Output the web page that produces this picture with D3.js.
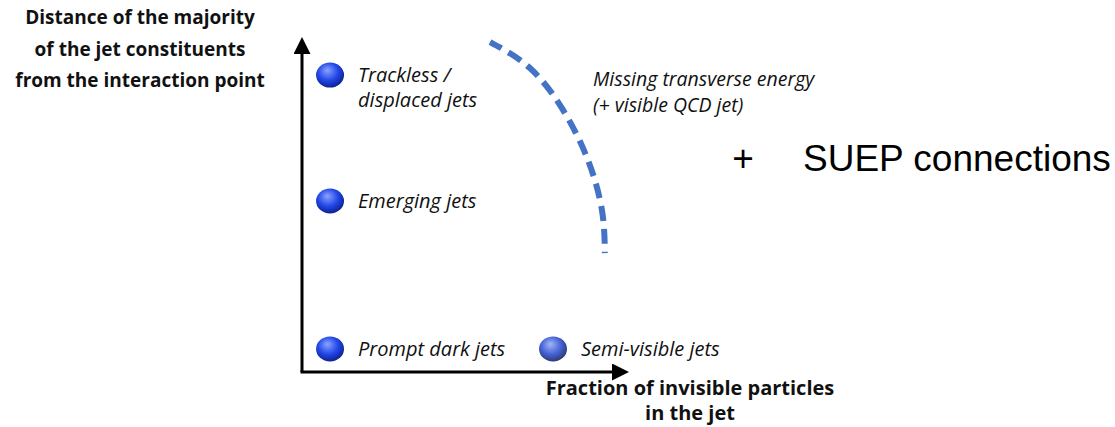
<!DOCTYPE html>
<html>
<head>
<meta charset="utf-8">
<script src="https://cdn.jsdelivr.net/npm/d3@7"></script>
<style>
  body { margin: 0; background: #fff; }
  svg { display: block; }
</style>
</head>
<body>
<svg id="chart"></svg>
<script>
// signatures placed on the (invisible fraction, distance) plane
const signatures = ['Trackless /\ndisplaced jets', 'Emerging jets', 'Prompt dark jets', 'Semi-visible jets']
const invisibleFraction = [0.086, 0.086, 0.086, 0.77]
const distance = [0.889, 0.512, 0.069, 0.069]
const ballStyle = ['dark', 'dark', 'dark', 'pale']

// dashed boundary towards missing transverse energy
const boundaryX = [0.577, 0.699, 0.801, 0.877, 0.920, 0.929]
const boundaryY = [0.988, 0.910, 0.784, 0.635, 0.485, 0.356]

const yTitle = ['Distance of the majority', 'of the jet constituents', 'from the interaction point']
const xTitle = ['Fraction of invisible particles', 'in the jet']
const metLabel = ['Missing transverse energy', '(+ visible QCD jet)']

const width = 1115
const height = 427

const svg = d3.select('#chart').attr('width', width).attr('height', height)

const x = d3.scaleLinear().domain([0, 1]).range([302, 628])
const y = d3.scaleLinear().domain([0, 1]).range([372, 38])

const defs = svg.append('defs')
const grads = {
    dark: ['#8aa4ff', '#2348e8', '#0a1a85'],
    pale: ['#a3b5f5', '#4563d8', '#2b3360']
}
Object.keys(grads).forEach(key => {
    const g = defs.append('radialGradient')
        .attr('id', 'ball-' + key)
        .attr('cx', '0.45').attr('cy', '0.4').attr('r', '0.65')
        .attr('fx', '0.4').attr('fy', '0.3')
    g.append('stop').attr('offset', '0%').attr('stop-color', grads[key][0])
    g.append('stop').attr('offset', '55%').attr('stop-color', grads[key][1])
    g.append('stop').attr('offset', '100%').attr('stop-color', grads[key][2])
})
const marker = (id, w, h) => {
    defs.append('marker')
        .attr('id', id)
        .attr('viewBox', `0 0 ${w} ${h}`)
        .attr('refX', 0).attr('refY', h / 2)
        .attr('markerWidth', w).attr('markerHeight', h)
        .attr('markerUnits', 'userSpaceOnUse')
        .attr('orient', 'auto')
        .append('path')
        .attr('d', `M0,0L${w},${h / 2}L0,${h}Z`)
        .attr('fill', '#000')
}
marker('arrow', 17, 17)

// axes as plain arrows
const axes = svg.append('g').attr('class', 'axes')
axes.append('path')
    .attr('d', `M${x(0)},${y(0)}L${x(0)},${y(1) + 16}`)
    .attr('stroke', '#000').attr('stroke-width', 3).attr('fill', 'none')
    .attr('marker-end', 'url(#arrow)')
axes.append('path')
    .attr('d', `M${x(0) - 1.5},${y(0)}L${x(1) - 16},${y(0)}`)
    .attr('stroke', '#000').attr('stroke-width', 3).attr('fill', 'none')
    .attr('marker-end', 'url(#arrow)')

// dashed boundary
const boundary = boundaryX.map((v, i) => [v, boundaryY[i]])
svg.append('path')
    .datum(boundary)
    .attr('d', d3.line().x(d => x(d[0])).y(d => y(d[1])).curve(d3.curveNatural))
    .attr('fill', 'none')
    .attr('stroke', '#4472c4')
    .attr('stroke-width', 6)
    .attr('stroke-dasharray', '15 8')
    .attr('stroke-dashoffset', 2)

// balls and labels
const points = signatures.map((s, i) => ({
    label: s, fx: invisibleFraction[i], d: distance[i], style: ballStyle[i]
}))
const pts = svg.append('g').selectAll('g').data(points).join('g')
    .attr('transform', p => `translate(${x(p.fx)},${y(p.d)})`)
pts.append('ellipse')
    .attr('rx', 14).attr('ry', 12.5)
    .attr('fill', p => `url(#ball-${p.style})`)
pts.append('text')
    .attr('font-family', '"Open Sans", sans-serif')
    .attr('font-style', 'italic')
    .attr('font-size', 20)
    .attr('fill', '#111')
    .selectAll('tspan')
    .data(p => p.label.split('\n').map((t, i) => ({ t, i })))
    .join('tspan')
    .attr('x', 28)
    .attr('dy', d => d.i === 0 ? '0.35em' : '1.25em')
    .text(d => d.t)

// missing energy label
svg.append('text')
    .attr('font-family', '"Open Sans", sans-serif')
    .attr('font-style', 'italic')
    .attr('font-size', 19.5)
    .attr('fill', '#111')
    .selectAll('tspan').data(metLabel).join('tspan')
    .attr('x', 593)
    .attr('y', (d, i) => 86 + i * 26)
    .text(d => d)

// axis titles
svg.append('text')
    .attr('font-family', '"Open Sans", sans-serif')
    .attr('font-weight', 'bold')
    .attr('font-size', 19)
    .attr('text-anchor', 'middle')
    .attr('fill', '#111')
    .selectAll('tspan').data(yTitle).join('tspan')
    .attr('x', 140)
    .attr('y', (d, i) => 24 + i * 31.5)
    .text(d => d)

svg.append('text')
    .attr('font-family', '"Open Sans", sans-serif')
    .attr('font-weight', 'bold')
    .attr('font-size', 20)
    .attr('text-anchor', 'middle')
    .attr('fill', '#111')
    .selectAll('tspan').data(xTitle).join('tspan')
    .attr('x', 690)
    .attr('y', (d, i) => 395 + i * 25)
    .text(d => d)

// side note
const note = svg.append('g').attr('font-family', '"Liberation Sans", Arial, sans-serif').attr('fill', '#000')
note.append('text').attr('x', 743).attr('y', 171).attr('text-anchor', 'middle').attr('font-size', 37).text('+')
note.append('text').attr('x', 803).attr('y', 171).attr('font-size', 37).text('SUEP connections')
</script>
</body>
</html>
